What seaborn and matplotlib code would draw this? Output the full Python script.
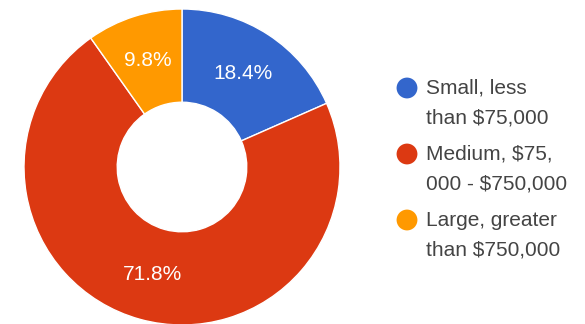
import matplotlib
matplotlib.use("Agg")
import matplotlib.pyplot as plt
import seaborn as sns

# ---- data ----
categories = ["Small, less\nthan $75,000", "Medium, $75,\n000 - $750,000", "Large, greater\nthan $750,000"]
shares = [18.4, 71.8, 9.8]
colors = ["#3366cc", "#dc3912", "#ff9900"]

sns.set_theme(style="white")
plt.rcParams["font.family"] = ["Liberation Sans", "DejaVu Sans"]

W, H = 585, 324
fig = plt.figure(figsize=(W / 100, H / 100), dpi=100)
fig.patch.set_facecolor("white")

# pie axes: centre (182,167) px, radius 158 px
cx, cy, r = 182, 167, 158
ax = fig.add_axes([(cx - r) / W, (H - cy - r) / H, 2 * r / W, 2 * r / H])
wedges, texts, autotexts = ax.pie(
    shares,
    colors=colors,
    startangle=90,
    counterclock=False,
    radius=1.0,
    autopct=lambda p: f"{p:.1f}%",
    pctdistance=0.705,
    wedgeprops=dict(width=0.59, edgecolor="white", linewidth=1),
    textprops=dict(color="white", fontsize=15),
)
ax.set_xlim(-1, 1)
ax.set_ylim(-1, 1)
ax.axis("off")

# legend drawn in a pixel-coordinate overlay
lax = fig.add_axes([0, 0, 1, 1])
lax.set_xlim(0, W)
lax.set_ylim(H, 0)
lax.axis("off")
y0, step, line = 88, 66, 30
for i, (lab, col) in enumerate(zip(categories, colors)):
    y = y0 + i * step
    lax.scatter([407], [y], s=(15.0) ** 2, color=col, edgecolors="none")
    for j, part in enumerate(lab.split("\n")):
        lax.text(426, y + j * line, part, fontsize=15, color="#444444",
                 va="center", ha="left")

fig.savefig("out.png", dpi=100, facecolor="white")
